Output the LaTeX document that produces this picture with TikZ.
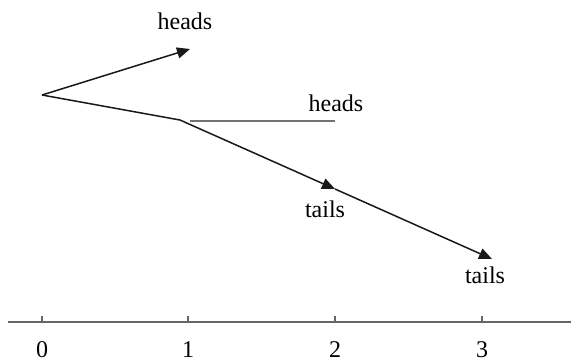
\documentclass[tikz,border=0pt]{standalone}
\usepackage{fontspec}
\setmainfont{Liberation Serif}
\usetikzlibrary{arrows.meta}
\begin{document}
\begin{tikzpicture}[x=0.5pt,y=-0.5pt,
  branch/.style={line width=0.75pt,draw=black!90},
  arr/.style={branch,-{Triangle[length=6.5pt,width=5.5pt]}},
  greyline/.style={line width=0.8pt,draw=black!55},
  lbl/.style={font=\fontsize{12}{14}\selectfont,inner sep=0pt},
  tick/.style={line width=0.6pt,draw=black!60}]
\useasboundingbox (0,0) rectangle (571,361);
% points
\coordinate (s) at (42,95);
\coordinate (h1) at (190,49);
\coordinate (k) at (180,120);
\coordinate (hl0) at (190,121);
\coordinate (hl1) at (335,121);
\coordinate (t1) at (335,189);
\coordinate (t2) at (492,259);
% branches
\draw[arr] (s) -- (h1);
\draw[branch] (s) -- (k);
\draw[greyline] (hl0) -- (hl1);
\draw[arr] (k) -- (t1);
\draw[arr] (t1) -- (t2);
% labels
\node[lbl] (lh1) at (185,21) {heads};
\node[lbl] (lh2) at (336,103) {heads};
\node[lbl] (lt1) at (325,209) {tails};
\node[lbl] (lt2) at (485,275) {tails};
% axis
\coordinate (a0) at (8,322);
\coordinate (a1) at (571,322);
\draw[line width=1pt,draw=black!60] (a0) -- (a1);
\foreach \x/\n in {42/0,188/1,335/2,482/3}{
  \coordinate (tk\n) at (\x,322);
  \draw[tick] (tk\n) -- ++(0,-6);
  \node[lbl] (ax\n) at (\x,350) {\n};
}
\end{tikzpicture}
\end{document}
